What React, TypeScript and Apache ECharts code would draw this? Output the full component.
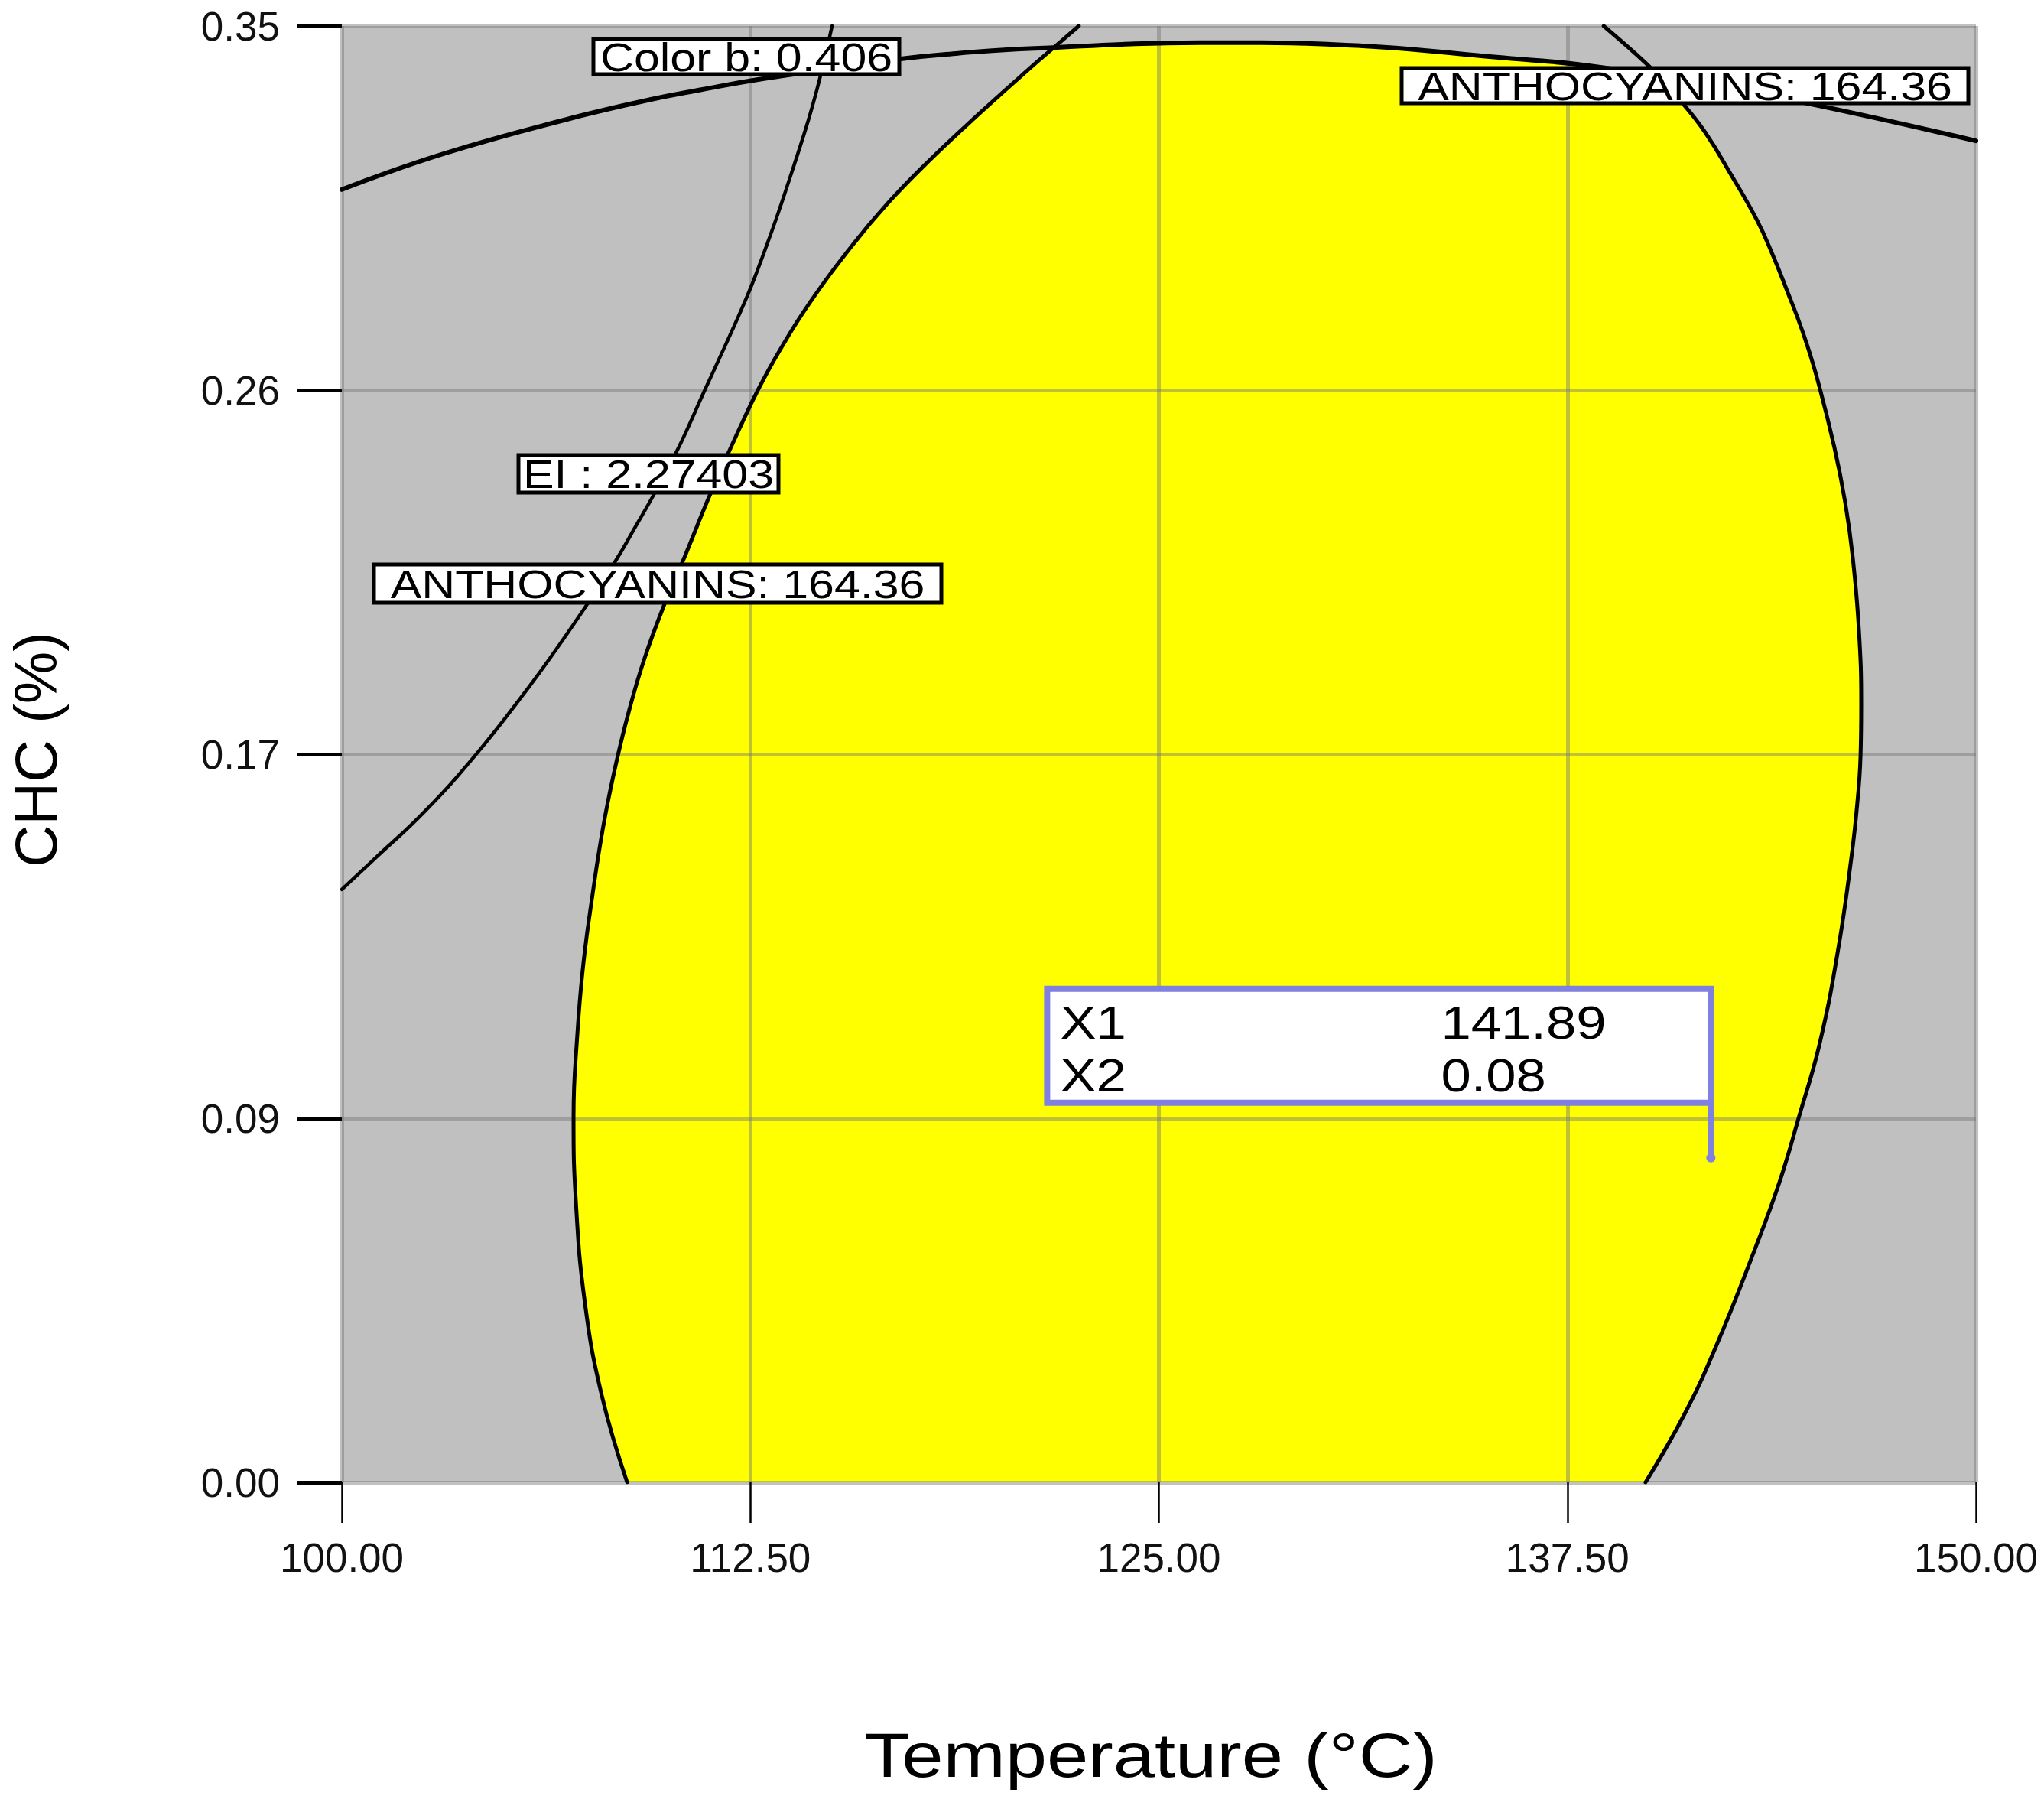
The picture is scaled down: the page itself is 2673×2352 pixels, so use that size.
import React, { useEffect, useRef } from 'react';
import * as echarts from 'echarts';

// ---------- data ----------
const xTicks = [100, 112.5, 125, 137.5, 150];
const yTickLabels = ['0.00', '0.09', '0.17', '0.26', '0.35'];
const yStep = 0.0875;

// ANTHOCYANINS: 164.36 contour – left branch (bottom → top)
const anthoLeft: [number, number][] = [
  [108.73, 0], [107.95, 0.021], [107.44, 0.043], [107.16, 0.0676], [107.09, 0.088],
  [107.21, 0.1081], [107.39, 0.1246], [107.67, 0.1412], [108.0, 0.1577], [108.38, 0.1724],
  [108.8, 0.1858], [109.27, 0.1982], [109.9, 0.2116], [110.44, 0.2215], [111.3, 0.238],
  [112.17, 0.2533], [112.73, 0.2625], [113.41, 0.2722], [114.3, 0.2833], [115.63, 0.2974],
  [116.68, 0.3072], [117.9, 0.3171], [119.54, 0.3292], [121.22, 0.341], [121.78, 0.3448],
  [122.55, 0.35],
];
// ANTHOCYANINS: 164.36 contour – right branch (top → bottom)
const anthoRight: [number, number][] = [
  [138.61, 0.35], [139.94, 0.3408], [140.27, 0.3379], [141.06, 0.3311], [141.72, 0.3244],
  [142.49, 0.3145], [143.29, 0.3035], [143.75, 0.2956], [144.22, 0.2864], [144.69, 0.2767],
  [145.11, 0.2662], [145.67, 0.2487], [146.0, 0.2355], [146.23, 0.2224], [146.42, 0.2048],
  [146.49, 0.1871], [146.47, 0.1748], [146.37, 0.1632], [146.19, 0.1502], [145.78, 0.1279],
  [145.22, 0.1055], [144.58, 0.0877], [143.99, 0.0722], [143.21, 0.0555], [142.07, 0.0331],
  [141.09, 0.0165], [139.89, 0],
];
// Color b: 0.406 contour (left → right)
const colorB: [number, number][] = [
  [100, 0.3107], [103.11, 0.3193], [107.0, 0.3278], [109.43, 0.3323], [111.0, 0.3347],
  [112.7, 0.3371], [115.04, 0.3397], [117.1, 0.3421], [118.79, 0.3434], [120.36, 0.3443],
  [121.78, 0.3448], [123.87, 0.3456], [126.27, 0.346], [128.15, 0.346], [130.25, 0.3456],
  [132.24, 0.3447], [135.33, 0.3425], [137.79, 0.3408], [140.27, 0.3379], [142.65, 0.3346],
  [145.16, 0.3309], [150, 0.3224],
];
// EI : 2.27403 contour (top → bottom)
const eiLine: [number, number][] = [
  [115.0, 0.35], [114.65, 0.3382], [114.39, 0.3305], [114.11, 0.3232], [113.73, 0.314],
  [113.34, 0.3048], [112.92, 0.2956], [112.54, 0.2877], [112.14, 0.2803], [111.72, 0.273],
  [111.07, 0.2619], [110.36, 0.2496], [109.59, 0.238], [108.98, 0.2296], [108.38, 0.2215],
  [107.65, 0.2127], [106.64, 0.2011], [105.69, 0.1908], [104.09, 0.1748], [102.53, 0.1612],
  [101.05, 0.1502], [100, 0.1425],
];
// where the feasible (yellow) region's upper boundary switches curves
const leftCutY = 0.3448;
const cutX = [121.78, 140.27];
const rightCutY = 0.3379;

const optimum = { x1: 141.89, x2: 0.078 };
const flagNames = ['X1', 'X2'];

const contourLabelTexts = ['Color b: 0.406', 'ANTHOCYANINS: 164.36', 'EI : 2.27403', 'ANTHOCYANINS: 164.36'];
const xTitle = 'Temperature (°C)';
const yTitle = 'CHC (%)';

// ---------- layout ----------
const W = 2673;
const H = 2352;
const GRID = { left: 447, top: 34, width: 2137, height: 1904 };
const labelBoxes = [
  { x: 776, y: 51, w: 400, h: 46 },
  { x: 1833, y: 89, w: 741, h: 46 },
  { x: 678, y: 595, w: 340, h: 49 },
  { x: 489, y: 738, w: 742, h: 50 },
];
const FONT = '"Liberation Sans", Arial, Helvetica, sans-serif';
const FLAG_COLOR = '#8080e0';

function txtStyle(text: string, size: number, align: string, vAlign: string, fill = '#000') {
  return {
    text,
    fill,
    fontSize: size,
    fontFamily: FONT,
    align,
    verticalAlign: vAlign,
    textAlign: align,
    textVerticalAlign: vAlign,
  };
}

export default function App() {
  const ref = useRef<HTMLDivElement>(null);

  useEffect(() => {
    if (!ref.current) return;
    const chart = echarts.init(ref.current, null, { renderer: 'svg' });

    const polygon: [number, number][] = [
      ...anthoLeft.filter((p) => p[1] <= leftCutY + 1e-9),
      ...colorB.filter((p) => p[0] > cutX[0] && p[0] < cutX[1]),
      ...anthoRight.filter((p) => p[1] <= rightCutY + 1e-9),
    ];

    const contour = (data: [number, number][], width: number) => ({
      type: 'line',
      data,
      showSymbol: false,
      symbol: 'none',
      smooth: 0.45,
      clip: true,
      silent: true,
      z: 3,
      lineStyle: { color: '#000', width, cap: 'round', join: 'round' },
    });

    const splitStyle = { color: 'rgba(118,118,118,0.45)', width: 5 };

    const graphics: any[] = [
      {
        type: 'text',
        x: 47,
        y: 980,
        rotation: Math.PI / 2,
        z: 100,
        style: txtStyle(yTitle, 77, 'center', 'middle'),
      },
      {
        type: 'text',
        x: 1505,
        y: 2294,
        scaleX: 1.19,
        z: 100,
        style: txtStyle(xTitle, 82, 'center', 'middle'),
      },
    ];
    labelBoxes.forEach((b, i) => {
      graphics.push({
        type: 'rect',
        z: 100,
        shape: { x: b.x, y: b.y, width: b.w, height: b.h },
        style: { fill: '#ffffff', stroke: '#000', lineWidth: 5 },
      });
      graphics.push({
        type: 'text',
        z: 101,
        x: b.x + b.w / 2,
        y: b.y + b.h / 2 + 1,
        scaleX: 1.17,
        style: txtStyle(contourLabelTexts[i], 52, 'center', 'middle'),
      });
    });

    const option: any = {
      animation: false,
      backgroundColor: '#ffffff',
      grid: {
        ...GRID,
        show: true,
        backgroundColor: '#c0c0c0',
        borderWidth: 0,
        containLabel: false,
        outerBoundsMode: 'none',
      },
      xAxis: {
        type: 'value',
        min: xTicks[0],
        max: xTicks[xTicks.length - 1],
        interval: xTicks[1] - xTicks[0],
        z: 2,
        axisLine: { show: false },
        axisTick: { show: true, inside: false, length: 53, lineStyle: { color: '#000', width: 2.5 } },
        axisLabel: {
          margin: 72,
          fontSize: 53,
          color: '#111',
          fontFamily: FONT,
          formatter: (v: number) => v.toFixed(2),
        },
        splitLine: { show: true, showMinLine: true, showMaxLine: true, lineStyle: splitStyle },
      },
      yAxis: {
        type: 'value',
        min: 0,
        max: 0.35,
        interval: yStep,
        z: 2,
        axisLine: { show: false },
        axisTick: { show: true, inside: false, length: 58, lineStyle: { color: '#000', width: 5 } },
        axisLabel: {
          margin: 81,
          fontSize: 53,
          color: '#111',
          fontFamily: FONT,
          formatter: (v: number) => yTickLabels[Math.round(v / yStep)] ?? '',
        },
        splitLine: { show: true, showMinLine: true, showMaxLine: true, lineStyle: splitStyle },
      },
      graphic: { elements: graphics },
      series: [
        {
          type: 'custom',
          z: 1,
          silent: true,
          data: [[125, 0.17]],
          renderItem: (_params: any, api: any) => ({
            type: 'polygon',
            shape: { points: polygon.map((p) => api.coord(p)) },
            style: { fill: '#ffff00', stroke: 'none' },
          }),
        },
        contour(anthoLeft, 5),
        contour(anthoRight, 5),
        contour(colorB, 6),
        contour(eiLine, 4.5),
        {
          type: 'custom',
          z: 50,
          silent: true,
          data: [[optimum.x1, optimum.x2]],
          renderItem: (_params: any, api: any) => {
            const vx = api.value(0);
            const vy = api.value(1);
            const [px, py] = api.coord([vx, vy]);
            const boxW = 868;
            const boxTop = py - 221;
            const boxH = 149;
            const valX = px - 353;
            const nameX = px - 851;
            const row1 = boxTop + 44;
            const row2 = boxTop + 113;
            const fs = 62;
            const sx = 1.14;
            return {
              type: 'group',
              children: [
                {
                  type: 'rect',
                  shape: { x: px - boxW, y: boxTop, width: boxW, height: boxH },
                  style: { fill: '#ffffff', stroke: FLAG_COLOR, lineWidth: 8 },
                },
                {
                  type: 'line',
                  shape: { x1: px, y1: boxTop + boxH, x2: px, y2: py },
                  style: { stroke: FLAG_COLOR, lineWidth: 8, lineCap: 'round' },
                },
                {
                  type: 'circle',
                  shape: { cx: px, cy: py, r: 6 },
                  style: { fill: FLAG_COLOR },
                },
                { type: 'text', x: nameX, y: row1, scaleX: sx, style: txtStyle(flagNames[0], fs, 'left', 'middle') },
                { type: 'text', x: valX, y: row1, scaleX: sx, style: txtStyle(vx.toFixed(2), fs, 'left', 'middle') },
                { type: 'text', x: nameX, y: row2, scaleX: sx, style: txtStyle(flagNames[1], fs, 'left', 'middle') },
                { type: 'text', x: valX, y: row2, scaleX: sx, style: txtStyle(vy.toFixed(2), fs, 'left', 'middle') },
              ],
            };
          },
        },
      ],
    };

    chart.setOption(option);
    return () => chart.dispose();
  }, []);

  return (
    <div
      ref={ref}
      style={{ position: 'fixed', left: 0, top: 0, width: W, height: H, background: '#fff' }}
    />
  );
}
